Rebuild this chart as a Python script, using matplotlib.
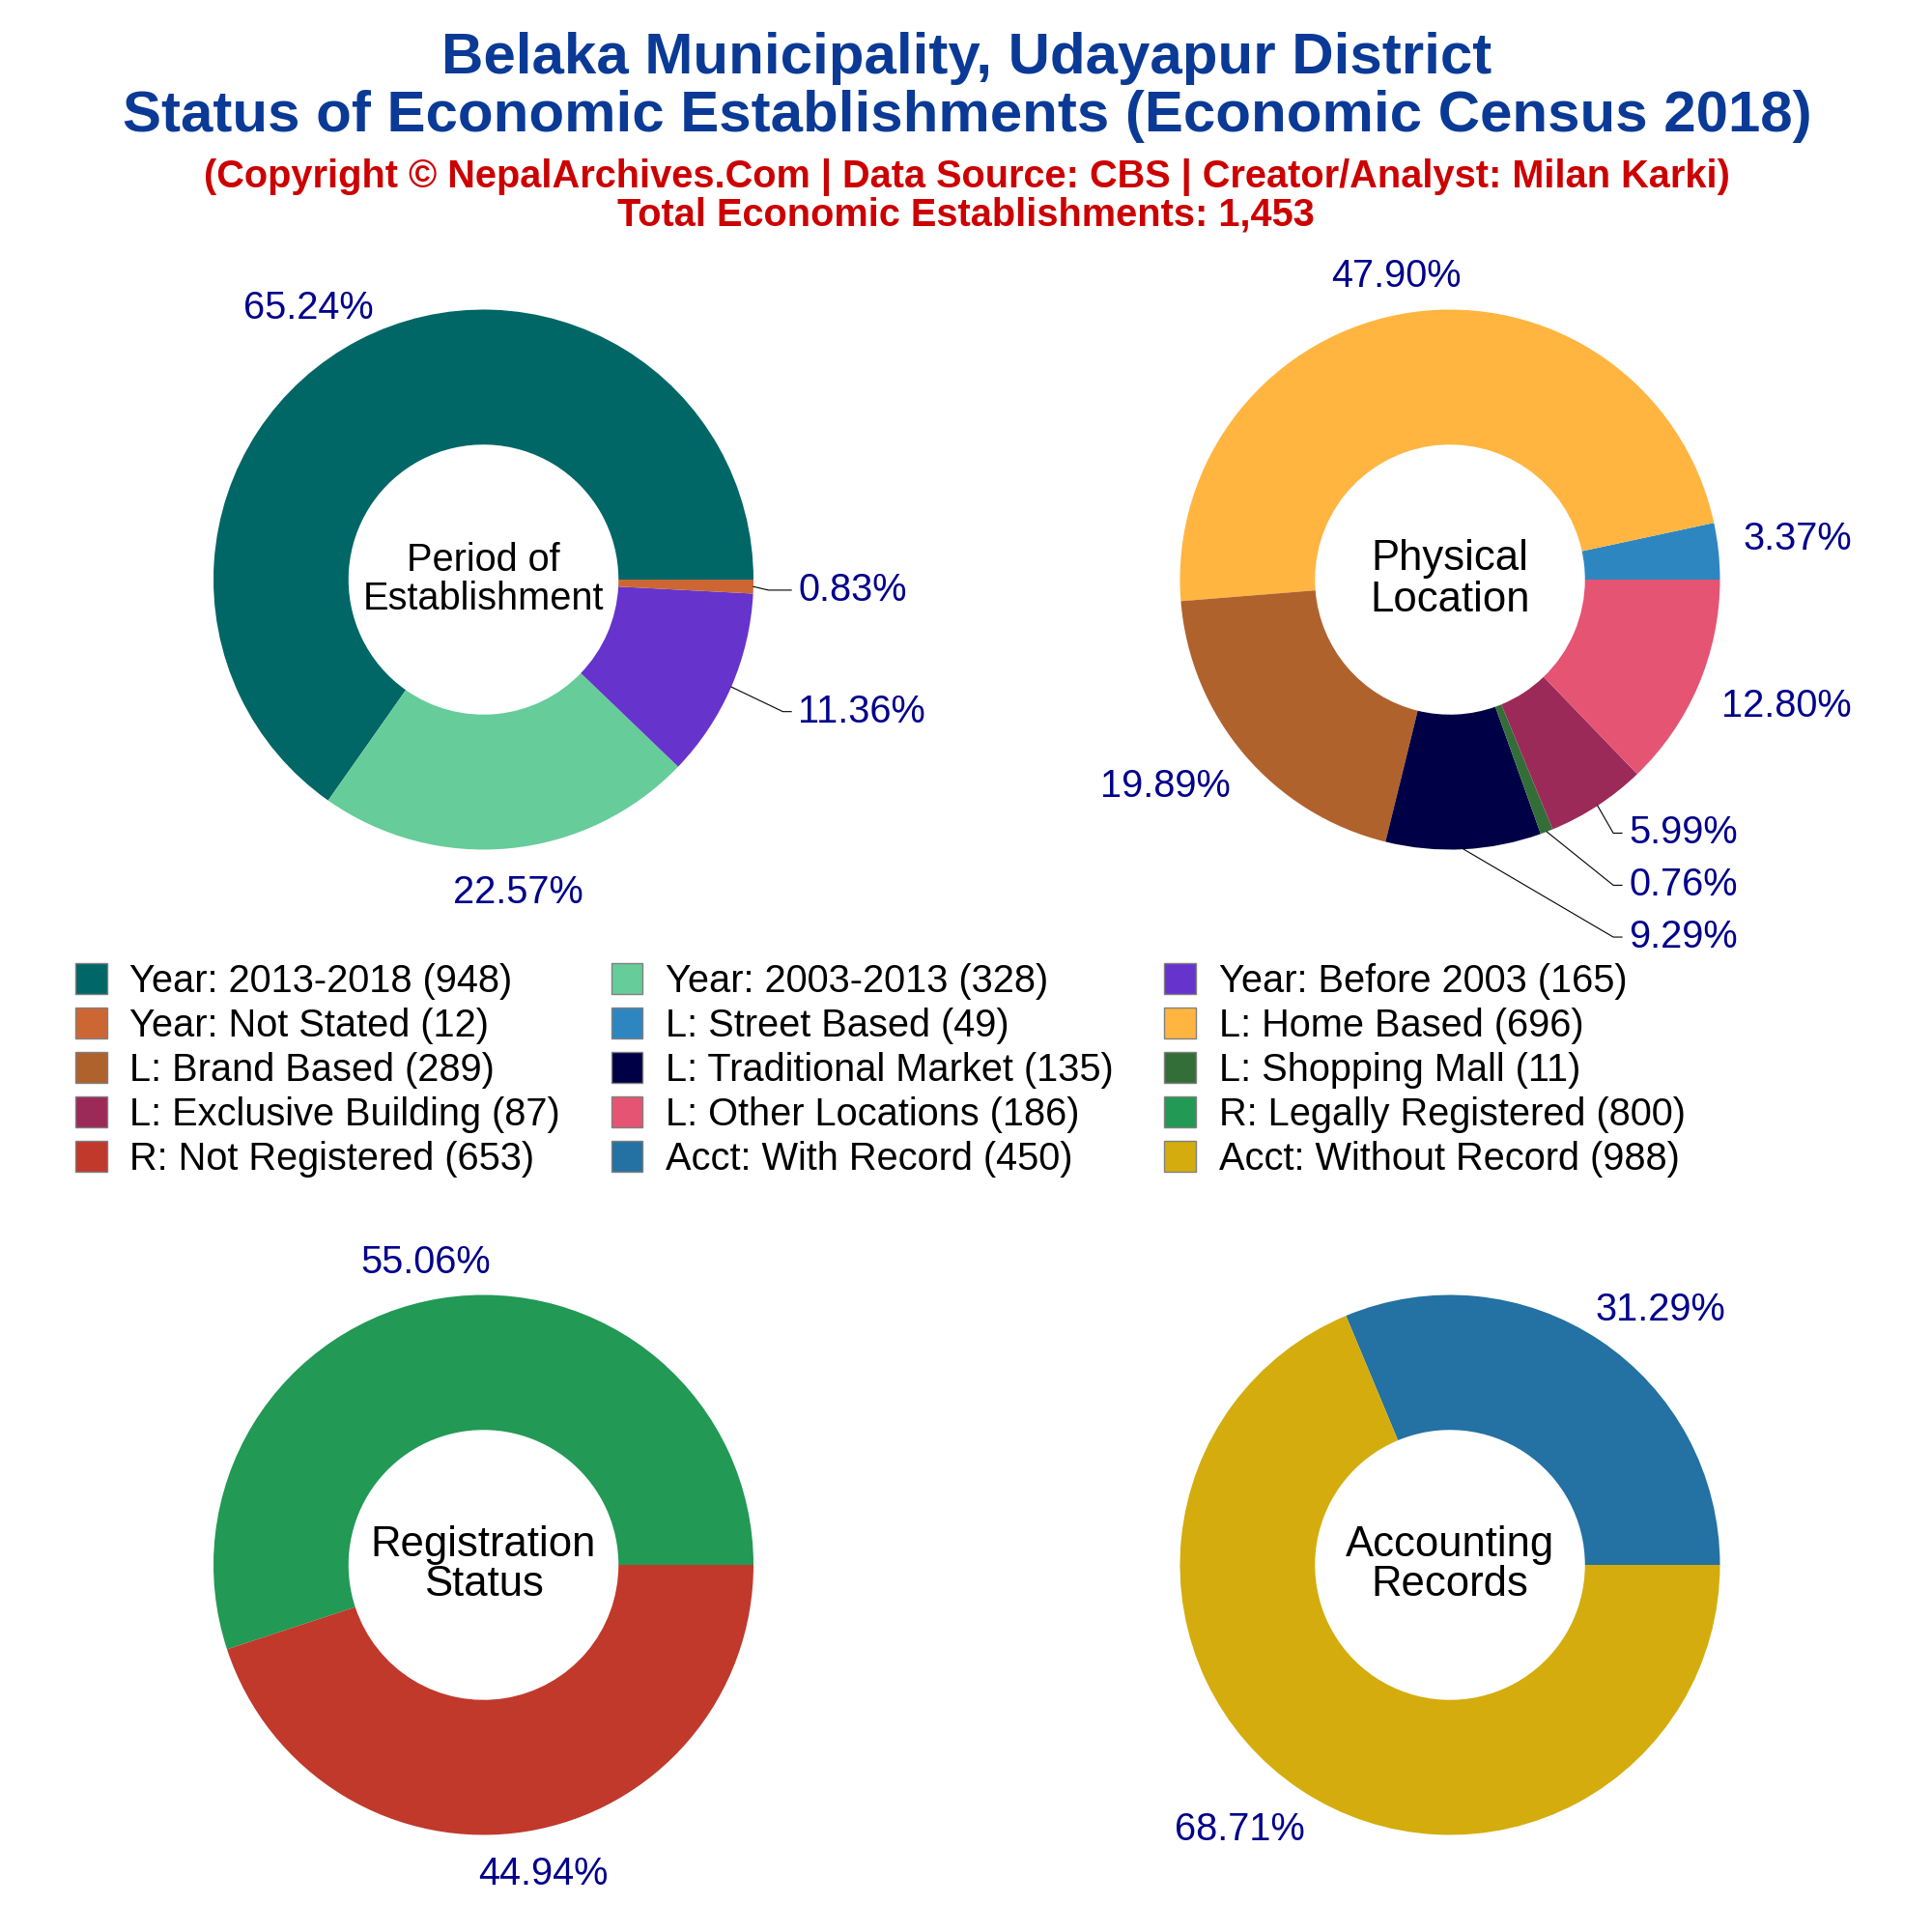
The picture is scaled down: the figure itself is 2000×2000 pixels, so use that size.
import numpy as np
import matplotlib
matplotlib.use("Agg")
import matplotlib.pyplot as plt
from matplotlib.patches import Patch

plt.rcParams['font.family'] = ['Liberation Sans', 'DejaVu Sans']

period_labels = ["Year: 2013-2018", "Year: 2003-2013", "Year: Before 2003", "Year: Not Stated"]
period_values = [948, 328, 165, 12]
period_colors = ["#006666", "#66cc99", "#6633cc", "#cc6633"]

location_labels = ["L: Street Based", "L: Home Based", "L: Brand Based", "L: Traditional Market",
                   "L: Shopping Mall", "L: Exclusive Building", "L: Other Locations"]
location_values = [49, 696, 289, 135, 11, 87, 186]
location_colors = ["#2e86c1", "#ffb540", "#b0622d", "#000046", "#336e39", "#9c2a58", "#e55472"]

registration_labels = ["R: Legally Registered", "R: Not Registered"]
registration_values = [800, 653]
registration_colors = ["#229954", "#c0392b"]

accounting_labels = ["Acct: With Record", "Acct: Without Record"]
accounting_values = [450, 988]
accounting_colors = ["#2471a3", "#d4ac0d"]

W = 2000.0
R = 279.5
DY = -0.009

def pie_axes(fig, cx, cy):
    ax = fig.add_axes([(cx - R) / W, 1 - (cy + R) / W, 2 * R / W, 2 * R / W])
    ax.set_xlim(-1, 1); ax.set_ylim(-1, 1)
    ax.axis('off')
    return ax

def donut(ax, values, colors, center, csize, places, ly=0.0, ls=1.07):
    wedges, _ = ax.pie(values, colors=colors, startangle=0, counterclock=True, radius=1,
                       wedgeprops=dict(width=0.5, linewidth=0), frame=False)
    ax.set_xlim(-1, 1); ax.set_ylim(-1, 1)
    ax.set_aspect('equal')
    ax.text(0, ly, center, ha='center', va='center', fontsize=csize, color='black', linespacing=ls)
    total = sum(values)
    for w, v, p in zip(wedges, values, places):
        txt = f"{100 * v / total:.2f}%"
        x, y, leader = p
        y = y + DY
        if leader is None:
            ax.text(x, y, txt, ha='center', va='center', fontsize=14.3, color='#00008b', clip_on=False)
        else:
            a = np.deg2rad((w.theta1 + w.theta2) / 2)
            ax.plot([np.cos(a), leader, x - 0.025], [np.sin(a), y, y], color='black', lw=0.4,
                    clip_on=False, solid_joinstyle='miter')
            ax.text(x, y, txt, ha='left', va='center', fontsize=14.3, color='#00008b', clip_on=False)

fig = plt.figure(figsize=(10, 10), dpi=200, facecolor='white')

ax1 = pie_axes(fig, 500.5, 600)
donut(ax1, period_values, period_colors, "Period of\nEstablishment", 14.3,
      [(-0.648, 1.014, None), (0.13, -1.15, None), (1.165, -0.48, 1.109), (1.165, -0.03, 1.055)], ly=0.0)

ax2 = pie_axes(fig, 1501, 600)
donut(ax2, location_values, location_colors, "Physical\nLocation", 15.7,
      [(1.288, 0.16, None), (-0.2, 1.132, None), (-1.055, -0.758, None), (0.662, -1.315, 0.605),
       (0.662, -1.123, 0.605), (0.662, -0.93, 0.605), (1.245, -0.46, None)], ly=0.0)

ax3 = pie_axes(fig, 500.5, 1620)
donut(ax3, registration_values, registration_colors, "Registration\nStatus", 15.7,
      [(-0.215, 1.128, None), (0.22, -1.137, None)], ly=0.0, ls=1.02)

ax4 = pie_axes(fig, 1501, 1620)
donut(ax4, accounting_values, accounting_colors, "Accounting\nRecords", 15.7,
      [(0.78, 0.954, None), (-0.78, -0.973, None)], ly=0.0, ls=1.02)

all_labels = period_labels + location_labels + registration_labels + accounting_labels
all_values = period_values + location_values + registration_values + accounting_values
all_colors = period_colors + location_colors + registration_colors + accounting_colors
handles = [Patch(facecolor=c, edgecolor='#808080', linewidth=0.5, label=f"{l} ({v})")
           for l, v, c in zip(all_labels, all_values, all_colors)]
order = [i + j for j in range(3) for i in range(0, 15, 3)]
fig.legend([handles[i] for i in order], [handles[i].get_label() for i in order],
           loc='upper left', bbox_to_anchor=(78 / W, 1 - 997 / W), ncol=3, frameon=False,
           fontsize=14.3, borderpad=0, borderaxespad=0, handlelength=0.82, handleheight=0.85,
           handletextpad=0.6, labelspacing=0.2, columnspacing=1.32)

fig.text(0.5005, 1 - 61 / W, "Belaka Municipality, Udayapur District", ha='center', va='center',
         fontsize=21.6, fontweight='bold', color='#0a3a96')
fig.text(0.5005, 1 - 120 / W, "Status of Economic Establishments (Economic Census 2018)", ha='center', va='center',
         fontsize=21.6, fontweight='bold', color='#0a3a96')
fig.text(0.5005, 1 - 183.5 / W, "(Copyright © NepalArchives.Com | Data Source: CBS | Creator/Analyst: Milan Karki)",
         ha='center', va='center', fontsize=14.3, fontweight='bold', color='#cc0000')
fig.text(0.5, 1 - 222.5 / W, "Total Economic Establishments: 1,453", ha='center', va='center',
         fontsize=14.3, fontweight='bold', color='#cc0000')

fig.savefig("out.png", dpi=200, facecolor='white')
